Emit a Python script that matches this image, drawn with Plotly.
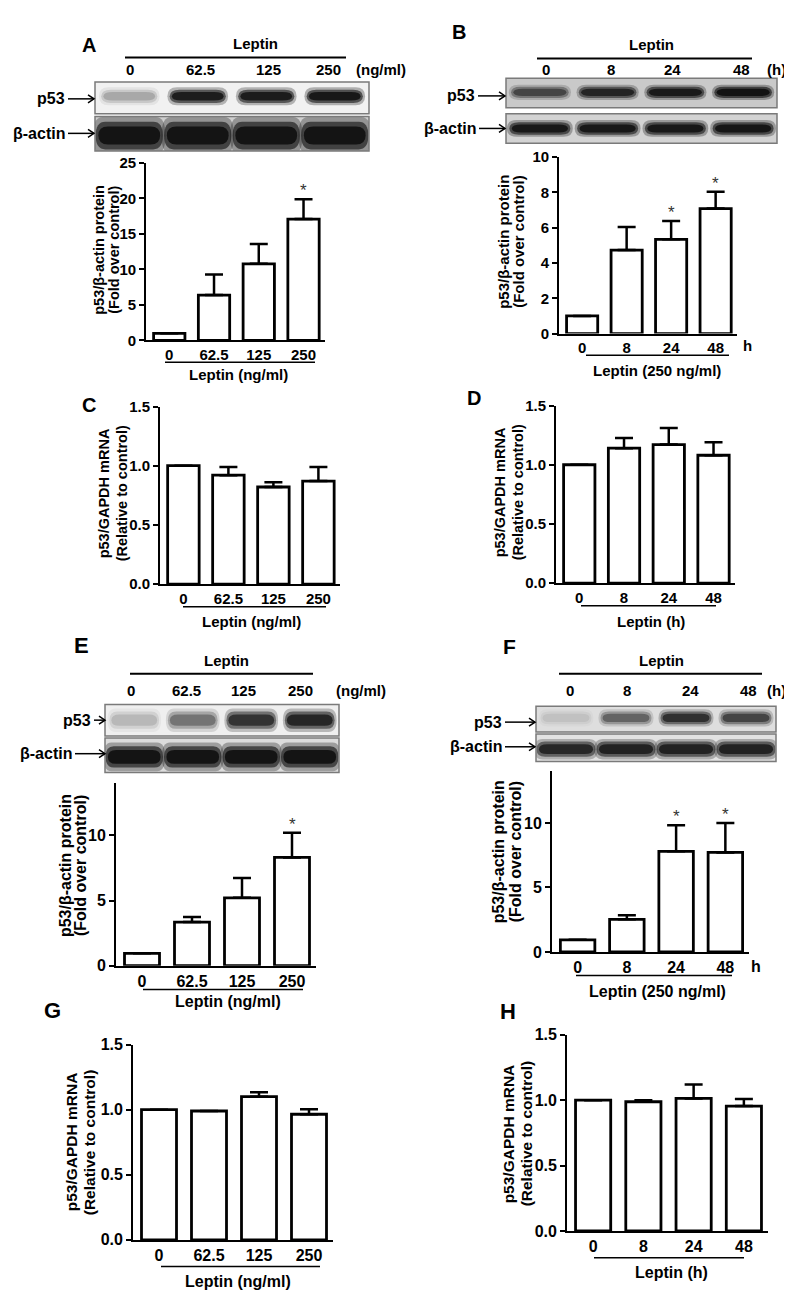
import plotly.graph_objects as go

W, H = 792, 1304
FONT = "Liberation Sans, Arial, Helvetica, sans-serif"

# ---------------- data ----------------
dose_labels = ["0", "62.5", "125", "250"]
time_labels = ["0", "8", "24", "48"]

# p53 / beta-actin protein (fold over control), mean and upper SEM
A_protein = [1.0, 6.4, 10.8, 17.1]
A_protein_err = [0.0, 2.9, 2.8, 2.8]
A_sig = [False, False, False, True]

B_protein = [1.0, 4.73, 5.34, 7.08]
B_protein_err = [0.0, 1.3, 1.03, 0.96]
B_sig = [False, False, True, True]

E_protein = [0.95, 3.35, 5.21, 8.31]
E_protein_err = [0.0, 0.38, 1.52, 1.9]
E_sig = [False, False, False, True]

F_protein = [0.94, 2.53, 7.8, 7.72]
F_protein_err = [0.0, 0.31, 2.02, 2.28]
F_sig = [False, False, True, True]

# p53 / GAPDH mRNA (relative to control)
C_mrna = [1.0, 0.92, 0.82, 0.87]
C_mrna_err = [0.0, 0.07, 0.04, 0.12]

D_mrna = [1.0, 1.14, 1.17, 1.08]
D_mrna_err = [0.0, 0.085, 0.14, 0.11]

G_mrna = [1.0, 0.99, 1.10, 0.965]
G_mrna_err = [0.0, 0.0, 0.034, 0.038]

H_mrna = [1.0, 0.988, 1.013, 0.955]
H_mrna_err = [0.0, 0.012, 0.107, 0.053]

no_sig = [False, False, False, False]

# western blot band darkness per lane (0 = no band, 1 = saturated)
A_p53_band = [0.2, 0.9, 0.92, 0.97]
A_actin_band = [1.0, 1.0, 1.0, 1.0]
B_p53_band = [0.55, 0.8, 0.9, 1.0]
B_actin_band = [0.95, 0.95, 0.95, 0.97]
E_p53_band = [0.15, 0.38, 0.72, 0.82]
E_actin_band = [1.0, 1.0, 1.0, 1.0]
F_p53_band = [0.08, 0.42, 0.72, 0.58]
F_actin_band = [0.8, 0.85, 0.85, 0.85]

# ---------------- helpers ----------------
fig = go.Figure()
shapes, annotations, axes = [], [], {}
n_axes = 0


def fx(x):
    return x / W


def fy(y):
    return 1 - y / H


def text(x, y, s, size=14, angle=0, anchor="center", weight="bold"):
    annotations.append(dict(x=fx(x), y=fy(y), xref="paper", yref="paper", text=s,
                            showarrow=False, textangle=angle, xanchor=anchor, yanchor="middle",
                            font=dict(family=FONT, size=size, color="black", weight=weight)))


def hline(x0, x1, y, width=1.5):
    shapes.append(dict(type="line", xref="paper", yref="paper", x0=fx(x0), x1=fx(x1),
                       y0=fy(y), y1=fy(y), line=dict(color="black", width=width)))


def arrow(x0, x1, y):
    hline(x0, x1, y, 1.5)
    shapes.append(dict(type="path", xref="paper", yref="paper",
                       path=f"M {fx(x1 - 6)},{fy(y - 4)} L {fx(x1)},{fy(y)} L {fx(x1 - 6)},{fy(y + 4)}",
                       line=dict(color="black", width=1.5)))


def new_axes(x0, x1, ytop, ybot):
    global n_axes
    n_axes += 1
    k = "" if n_axes == 1 else str(n_axes)
    axes["xaxis" + k] = dict(domain=[fx(x0), fx(x1)], anchor="y" + k)
    axes["yaxis" + k] = dict(domain=[fy(ybot), fy(ytop)], anchor="x" + k)
    return k


def bar_panel(box, values, errors, labels, sig, ymax, yticks, fmt, tsize):
    x0, x1, ytop, ybot = box
    k = new_axes(x0, x1, ytop, ybot)
    cats = list(range(len(values)))
    fig.add_trace(go.Bar(
        x=cats, y=values, width=0.7,
        marker=dict(color="white", line=dict(color="black", width=2.8)),
        error_y=dict(type="data", symmetric=False, array=errors, arrayminus=[0] * len(errors),
                     color="black", thickness=2.5, width=9),
        xaxis="x" + k, yaxis="y" + k, showlegend=False, hoverinfo="skip"))
    tf = dict(family=FONT, size=tsize, color="black", weight="bold")
    axes["xaxis" + k].update(range=[-0.52, 3.48], showline=True, linecolor="black", linewidth=1.8,
                             ticks="", tickmode="array", tickvals=cats, ticktext=labels,
                             tickfont=tf, showgrid=False, zeroline=False, fixedrange=True)
    axes["yaxis" + k].update(range=[0, ymax], showline=True, linecolor="black", linewidth=1.8,
                             ticks="outside", ticklen=5, tickwidth=1.8, tickcolor="black",
                             tickmode="array", tickvals=yticks, tickformat=fmt, tickfont=tf,
                             showgrid=False, zeroline=False, fixedrange=True)
    for i, s in enumerate(sig):
        if s:
            annotations.append(dict(x=i, y=values[i] + errors[i], xref="x" + k, yref="y" + k,
                                    text="*", showarrow=False, yanchor="bottom", yshift=-3,
                                    font=dict(family=FONT, size=17, color="#333")))


def rounded(xa, xb, ya, yb):
    rx = min(0.14, (xb - xa) / 2)
    ym = (ya + yb) / 2
    return (f"M {xa + rx},{ya} L {xb - rx},{ya} Q {xb},{ya} {xb},{ym} Q {xb},{yb} {xb - rx},{yb} "
            f"L {xa + rx},{yb} Q {xa},{yb} {xa},{ym} Q {xa},{ya} {xa + rx},{ya} Z")


def blot(box, bands, bg, band_h, band_y, band_w):
    x0, y0, x1, y1 = box
    k = new_axes(x0, x1, y0, y1)
    fig.add_trace(go.Scatter(x=[None], y=[None], xaxis="x" + k, yaxis="y" + k,
                             showlegend=False, hoverinfo="skip"))
    axes["xaxis" + k].update(range=[-0.5, 3.5], visible=False, fixedrange=True)
    axes["yaxis" + k].update(range=[0, 1], visible=False, fixedrange=True)
    shapes.append(dict(type="rect", xref="x" + k, yref="y" + k, x0=-0.5, x1=3.5, y0=0, y1=1,
                       fillcolor=bg, line=dict(width=0)))
    for lane, level in enumerate(bands):
        for sw, sh, a in ((1.08, 1.35, 0.3), (1.0, 1.0, 0.6), (0.92, 0.65, 0.85)):
            w = band_w * sw / 2
            h = band_h * sh / 2
            shapes.append(dict(type="path", xref="x" + k, yref="y" + k,
                               path=rounded(lane - w, lane + w, band_y - h, band_y + h),
                               fillcolor=f"rgba(12,12,12,{a * level:.3f})", line=dict(width=0)))
    shapes.append(dict(type="rect", xref="paper", yref="paper", x0=fx(x0), x1=fx(x1),
                       y0=fy(y1), y1=fy(y0), line=dict(color="#7a7a7a", width=1.5)))


def blot_header(cx, ly, lx0, lx1, lab_y, lab_x, labels, unit, unit_x):
    text(cx, ly, "Leptin", 15)
    hline(lx0, lx1, ly + 14, 2)
    for x, s in zip(lab_x, labels):
        text(x, lab_y, s, 15)
    text(unit_x, lab_y, unit, 15)


def row_label(s, x_tail, x_head, y):
    text(x_tail - 1, y, s, 16, anchor="right")
    arrow(x_tail, x_head, y)


def y_title(x1, x2, y, l1, l2, size):
    text(x1, y, l1, size, angle=-90)
    text(x2, y, l2, size, angle=-90)


def group(x0, x1, yl, title, tx, ty, size):
    hline(x0, x1, yl, 1.5)
    text(tx, ty, title, size)


prot1, prot2 = "p53/β-actin protein", "(Fold over control)"
mrna1, mrna2 = "p53/GAPDH mRNA", "(Relative to control)"

# ---------------- panel A ----------------
text(81, 28, "A", 20)
blot_header(247, 27, 117, 338, 53, [122, 192, 260, 320], dose_labels, "(ng/ml)", 373)
blot((87, 66, 361, 98), A_p53_band, "#f1f1f1", 0.42, 0.55, 0.82)
blot((87, 101, 361, 136), A_actin_band, "#cfcfcf", 0.8, 0.45, 0.98)
row_label("p53", 60, 86, 83)
row_label("β-actin", 60, 86, 118)
bar_panel((138, 317, 148, 328), A_protein, A_protein_err, dose_labels, A_sig, 25,
          [0, 5, 10, 15, 20, 25], "d", 15)
y_title(91, 106, 236, prot1, prot2, 14.5)
group(157, 307, 350, "Leptin (ng/ml)", 230, 362, 15)

# ---------------- panel B ----------------
text(451, 15, "B", 20)
blot_header(643, 28, 529, 744, 53, [538, 603, 664, 733], time_labels, "(h)", 768)
blot((498, 62, 769, 92), B_p53_band, "#c9c9c9", 0.38, 0.52, 0.85)
blot((498, 98, 769, 128), B_actin_band, "#d3d3d3", 0.42, 0.5, 0.9)
row_label("p53", 470, 497, 80)
row_label("β-actin", 471, 497, 113)
bar_panel((551, 729, 142, 321), B_protein, B_protein_err, time_labels, B_sig, 10,
          [0, 2, 4, 6, 8, 10], "d", 15)
y_title(496, 511, 228, prot1, prot2, 15)
text(739, 333, "h", 15)
group(578, 721, 343, "Leptin (250 ng/ml)", 649, 358, 15)

# ---------------- panel C ----------------
text(81, 393, "C", 20)
bar_panel((152, 332, 395, 575), C_mrna, C_mrna_err, dose_labels, no_sig, 1.5,
          [0, 0.5, 1.0, 1.5], ".1f", 15)
y_title(96, 114, 483, mrna1, mrna2, 14.5)
group(175, 318, 598, "Leptin (ng/ml)", 243, 613, 15)

# ---------------- panel D ----------------
text(466, 386, "D", 20)
bar_panel((548, 727, 394, 574), D_mrna, D_mrna_err, time_labels, no_sig, 1.5,
          [0, 0.5, 1.0, 1.5], ".1f", 15)
y_title(492, 510, 482, mrna1, mrna2, 14.5)
group(573, 708, 597, "Leptin (h)", 643, 613, 15)

# ---------------- panel E ----------------
text(73, 637, "E", 22)
blot_header(218, 652, 122, 305, 683, [123, 178, 235, 292], dose_labels, "(ng/ml)", 353)
blot((97, 697, 331, 729), E_p53_band, "#efefef", 0.55, 0.5, 0.85)
blot((97, 731, 331, 766), E_actin_band, "#dcdcdc", 0.62, 0.45, 0.98)
row_label("p53", 86, 97, 713)
row_label("β-actin", 67, 97, 747)
bar_panel((108, 308, 777, 962), E_protein, E_protein_err, dose_labels, E_sig, 14,
          [0, 5, 10], "d", 16)
y_title(57, 72, 861, prot1, prot2, 16)
group(135, 295, 986, "Leptin (ng/ml)", 220, 998, 16)

# ---------------- panel F ----------------
text(501, 638, "F", 21)
blot_header(653, 652, 551, 754, 683, [562, 619, 682, 740], time_labels, "(h)", 768)
blot((528, 699, 768, 725), F_p53_band, "#dedede", 0.5, 0.55, 0.85)
blot((528, 727, 768, 755), F_actin_band, "#e2e2e2", 0.55, 0.45, 0.98)
row_label("p53", 497, 527, 715)
row_label("β-actin", 497, 527, 740)
bar_panel((544, 741, 765, 948), F_protein, F_protein_err, time_labels, F_sig, 14,
          [0, 5, 10], "d", 16)
y_title(490, 507, 847, prot1, prot2, 16)
text(748, 963, "h", 16)
group(568, 724, 972, "Leptin (250 ng/ml)", 649, 988, 16)

# ---------------- panel G ----------------
text(44, 1007, "G", 22)
bar_panel((125, 325, 1042, 1240), G_mrna, G_mrna_err, dose_labels, no_sig, 1.5,
          [0, 0.5, 1.0, 1.5], ".1f", 16)
y_title(63, 81, 1141, mrna1, mrna2, 15.5)
group(153, 312, 1267, "Leptin (ng/ml)", 230, 1282, 16)

# ---------------- panel H ----------------
text(500, 1008, "H", 22)
bar_panel((559, 760, 1032, 1231), H_mrna, H_mrna_err, time_labels, no_sig, 1.5,
          [0, 0.5, 1.0, 1.5], ".1f", 16)
y_title(500, 518, 1132, mrna1, mrna2, 15.5)
group(586, 736, 1258, "Leptin (h)", 663, 1273, 16)

fig.update_layout(
    width=W, height=H,
    margin=dict(l=0, r=0, t=0, b=0),
    paper_bgcolor="white",
    plot_bgcolor="rgba(0,0,0,0)",
    showlegend=False,
    hovermode=False,
    shapes=shapes,
    annotations=annotations,
    **axes,
)

fig.write_html("out.html", config={"displayModeBar": False})
